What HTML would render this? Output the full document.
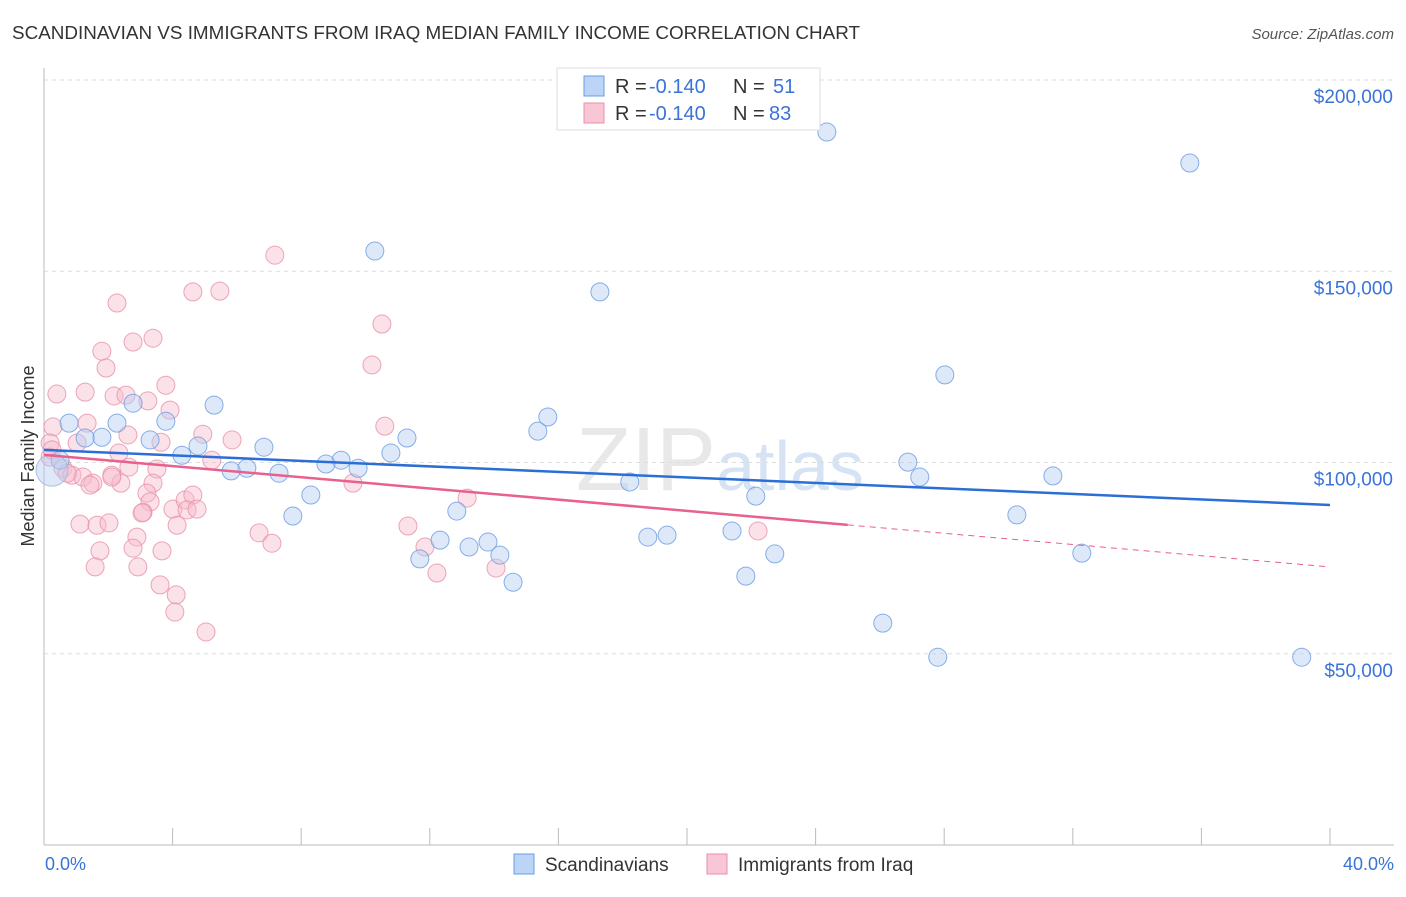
<!DOCTYPE html>
<html><head><meta charset="utf-8"><style>
body{margin:0;background:#fff;font-family:"Liberation Sans",sans-serif;}
svg text{font-family:"Liberation Sans",sans-serif;}
</style></head><body>
<svg id="chart" width="1406" height="892">
<text x="12" y="39" font-size="18" fill="#333" textLength="848" lengthAdjust="spacingAndGlyphs">SCANDINAVIAN VS IMMIGRANTS FROM IRAQ MEDIAN FAMILY INCOME CORRELATION CHART</text>
<text x="1394" y="39" font-size="15" fill="#555" font-style="italic" text-anchor="end">Source: ZipAtlas.com</text>
<text x="720" y="490" font-size="90" fill="#e8e8e8" text-anchor="middle" font-family="Liberation Serif">ZIP<tspan fill="#d6e3f5" font-family="Liberation Sans" font-size="70">atlas</tspan></text>
<g id="grid"></g>
<g id="axes"></g>
<g id="pts"></g>
<g id="lines"></g>
<text transform="translate(34,456) rotate(-90)" font-size="18" fill="#333" text-anchor="middle">Median Family Income</text>
<text x="45" y="870" font-size="18" fill="#3a73d8">0.0%</text>
<text x="1394" y="870" font-size="18" fill="#3a73d8" text-anchor="end">40.0%</text>
<g>
<rect x="557" y="68" width="263" height="62" fill="#fff" stroke="#ddd"/>
<rect x="584" y="76" width="20" height="20" fill="#bcd4f5" stroke="#6a9be6"/>
<rect x="584" y="103" width="20" height="20" fill="#f9c6d5" stroke="#e98fac"/>
<text x="615" y="93" font-size="20" fill="#333">R =</text>
<text x="649" y="93" font-size="20" fill="#3a73d8">-0.140</text>
<text x="733" y="93" font-size="20" fill="#333">N =</text>
<text x="773" y="93" font-size="20" fill="#3a73d8">51</text>
<text x="615" y="120" font-size="20" fill="#333">R =</text>
<text x="649" y="120" font-size="20" fill="#3a73d8">-0.140</text>
<text x="733" y="120" font-size="20" fill="#333">N =</text>
<text x="769" y="120" font-size="20" fill="#3a73d8">83</text>
</g>
<g>
<rect x="514" y="854" width="20" height="20" fill="#bcd4f5" stroke="#6a9be6"/>
<text x="545" y="871" font-size="19" fill="#333">Scandinavians</text>
<rect x="707" y="854" width="20" height="20" fill="#f9c6d5" stroke="#e98fac"/>
<text x="738" y="871" font-size="19" fill="#333">Immigrants from Iraq</text>
</g>
</svg>
<script>
const yTicks=[50000,100000,150000,200000];
const yTickLabels=["$50,000","$100,000","$150,000","$200,000"];
const xTicks=[0,4,8,12,16,20,24,28,32,36,40];
const blueX=[24.35,35.64,10.29,17.29,28.02,5.29,2.77,15.67,0.78,3.79,2.27,15.36,11.29,3.30,1.80,1.28,6.84,4.79,4.29,10.79,9.24,8.77,26.87,6.31,5.82,7.31,9.77,31.38,27.24,18.22,8.30,22.14,12.84,7.74,30.26,21.40,18.78,19.38,12.32,13.81,13.22,14.18,22.73,32.28,11.69,21.83,14.59,26.09,27.80,39.12,0.50];
const blueY=[186.4,178.3,155.3,144.6,122.9,115.0,115.5,111.9,110.3,110.8,110.3,108.2,106.4,105.9,106.6,106.4,104.0,104.3,101.9,102.5,100.6,99.6,100.1,98.5,97.8,97.2,98.5,96.5,96.2,94.9,91.5,91.2,87.3,86.0,86.3,82.1,80.5,81.0,79.7,79.2,77.9,75.8,76.1,76.3,74.8,70.3,68.7,58.0,49.1,49.1,100.6];
const pinkX=[7.18,4.63,5.47,2.27,2.77,3.39,1.80,1.93,10.51,10.20,0.40,1.28,2.18,2.55,3.23,3.79,3.92,10.60,0.28,1.34,1.03,2.61,3.64,4.94,5.85,2.33,5.22,3.51,2.64,2.11,2.39,0.19,0.19,0.59,0.87,1.21,1.52,1.43,2.11,3.39,3.20,3.30,3.08,3.05,4.01,4.39,4.63,4.45,4.76,4.14,1.12,1.65,2.02,2.89,2.77,3.67,1.74,1.59,2.92,3.61,4.11,4.07,5.04,9.61,11.32,11.85,12.22,6.69,7.09,13.16,14.06,22.21,0.25,0.72];
const pinkY=[154.2,144.6,144.8,141.7,131.5,132.5,129.1,124.7,136.2,125.5,117.9,118.4,117.4,117.6,116.1,120.2,113.7,109.5,109.3,110.3,105.1,107.2,105.3,107.4,105.9,102.5,100.6,98.3,98.8,96.7,94.6,105.1,101.4,98.5,96.7,96.2,94.6,94.1,96.2,94.6,92.0,89.7,87.0,86.8,87.8,90.2,91.5,87.6,87.8,83.6,83.9,83.6,84.2,80.5,77.6,76.9,76.9,72.7,72.7,68.0,65.4,60.9,55.7,94.6,83.4,77.9,71.1,81.6,78.9,90.7,72.4,82.1,103.3,97.2];
const bigX=[0.25], bigY=[98.0];
const blueLine=[103.3,88.9];
const pinkLine=[102.0,72.7];
const pinkSolidEnd=25;
const NS="http://www.w3.org/2000/svg";
const sx=v=>44+v/40*1286;
const sy=v=>845-v/200000*765;
function mk(t,a,p){const e=document.createElementNS(NS,t);for(const k in a)e.setAttribute(k,a[k]);p.appendChild(e);return e;}
const grid=document.getElementById('grid'),axes=document.getElementById('axes'),pts=document.getElementById('pts'),lines=document.getElementById('lines');
yTicks.forEach((v,i)=>{
 const l=mk('line',{x1:44,x2:1394,y1:sy(v),y2:sy(v),stroke:'#ddd','stroke-dasharray':'4,4'},grid);
 
 
 const t=mk('text',{x:1393,y:sy(v)+23,'font-size':19,fill:'#3a73d8','text-anchor':'end'},grid);
 t.textContent=yTickLabels[i];
 
 
});
const yl=mk('line',{x1:44,x2:44,y1:68,y2:845,stroke:'#bbb'},axes);


const xl=mk('line',{x1:44,x2:1394,y1:845,y2:845,stroke:'#bbb'},axes);


xTicks.forEach(v=>{
 const t=mk('line',{x1:sx(v),x2:sx(v),y1:828,y2:845,stroke:'#bbb'},axes);
 
 
});
function dot(x,y,r,fill,stroke,name){
 const c=mk('circle',{cx:sx(x),cy:sy(y*1000),r:r,fill:fill,'fill-opacity':0.45,stroke:stroke,'stroke-opacity':0.8,'stroke-width':1},pts);
 
 
}
pinkX.forEach((x,i)=>dot(x,pinkY[i],9,'#f7bccd','#e890a8','iraq-point'));
blueX.forEach((x,i)=>dot(x,blueY[i],9,'#b3cff2','#6b9be2','scandinavian-point'));
bigX.forEach((x,i)=>dot(x,bigY[i],16,'#b3cff2','#9ab4dc','scandinavian-point-large'));
const bl=mk('line',{x1:sx(0),y1:sy(blueLine[0]*1000),x2:sx(40),y2:sy(blueLine[1]*1000),stroke:'#2b6fd6','stroke-width':2.5},lines);


const pAt=x=>pinkLine[0]+(pinkLine[1]-pinkLine[0])*x/40;
const pl=mk('line',{x1:sx(0),y1:sy(pAt(0)*1000),x2:sx(pinkSolidEnd),y2:sy(pAt(pinkSolidEnd)*1000),stroke:'#e8608e','stroke-width':2.5},lines);


const pd=mk('line',{x1:sx(pinkSolidEnd),y1:sy(pAt(pinkSolidEnd)*1000),x2:sx(40),y2:sy(pAt(40)*1000),stroke:'#e8608e','stroke-width':1,'stroke-dasharray':'6,5'},lines);


</script>
</body></html>
